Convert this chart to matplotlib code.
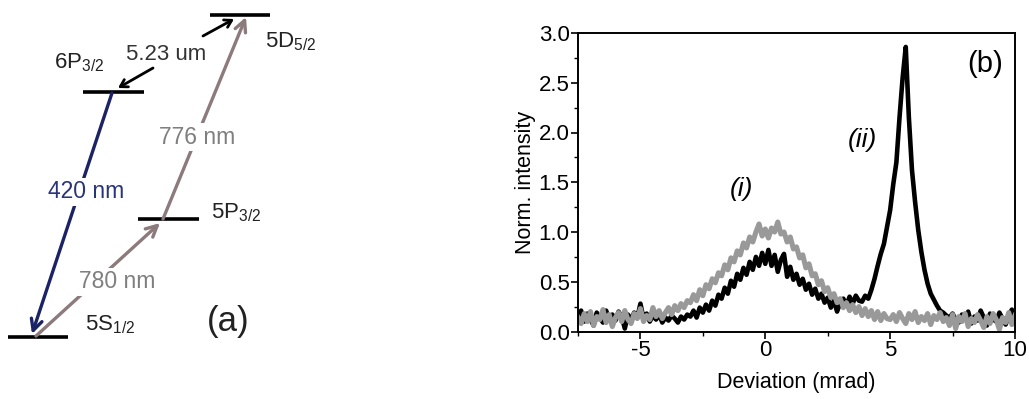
import numpy as np
import matplotlib.pyplot as plt
import matplotlib as mpl

mpl.rcParams['font.family'] = ['Liberation Sans', 'DejaVu Sans']
mpl.rcParams['mathtext.fontset'] = 'custom'
mpl.rcParams['mathtext.rm'] = 'Liberation Sans'
mpl.rcParams['mathtext.it'] = 'Liberation Sans:italic'
mpl.rcParams['axes.unicode_minus'] = False

# deviation grid, mrad (step 0.125)
deviation = np.linspace(-7.5, 10.0, 141)

# (i) probe beam only, grey
intensity_i = [
    0.14, 0.08, 0.18, 0.10, 0.20, 0.06, 0.15, 0.12, 0.22, 0.09,
    0.17, 0.05, 0.14, 0.19, 0.10, 0.21, 0.12, 0.08, 0.18, 0.13,
    0.23, 0.10, 0.16, 0.12, 0.24, 0.15, 0.21, 0.13, 0.19, 0.24,
    0.17, 0.26, 0.21, 0.28, 0.24, 0.31,
    0.29, 0.37, 0.31, 0.42, 0.36, 0.47, 0.43, 0.53, 0.49, 0.59,
    0.56, 0.67, 0.62, 0.74, 0.70, 0.81, 0.77, 0.89, 0.84, 0.95,
    0.90, 1.00, 1.08, 0.96, 1.03, 0.94, 1.04, 1.00, 1.10, 0.98,
    1.00, 0.90, 0.95, 0.83, 0.85, 0.74, 0.77, 0.64, 0.68, 0.56,
    0.58, 0.47, 0.51, 0.40, 0.44, 0.34, 0.38, 0.29, 0.33, 0.24,
    0.29, 0.21, 0.27, 0.19, 0.25, 0.16, 0.23, 0.15, 0.21, 0.12,
    0.20, 0.11, 0.18, 0.13, 0.12,
    0.17, 0.10, 0.19, 0.13, 0.08, 0.18, 0.12, 0.20, 0.09, 0.15,
    0.11, 0.18, 0.07, 0.16, 0.12, 0.19, 0.10, 0.14, 0.06, 0.17,
    0.03, 0.15, 0.10, 0.18, 0.05, 0.13, 0.09, 0.17, 0.11, 0.04,
    0.15, 0.08, 0.18, 0.12, 0.02, 0.14, 0.09, 0.19, 0.07, 0.16,
]

# (ii) with coupling beams, black
intensity_ii = [
    0.16, 0.21, 0.10, 0.18, 0.12, 0.06, 0.19, 0.14, 0.09, 0.21,
    0.13, 0.17, 0.11, 0.20, 0.15, 0.03, 0.17, 0.12, 0.19, 0.14,
    0.28, 0.13, 0.18, 0.10, 0.16, 0.12, 0.17, 0.09, 0.14, 0.11,
    0.16, 0.13, 0.09, 0.15, 0.12, 0.17,
    0.15, 0.21, 0.14, 0.24, 0.19, 0.27, 0.21, 0.31, 0.26, 0.37,
    0.33, 0.44, 0.38, 0.51, 0.45, 0.58, 0.52, 0.64, 0.57, 0.70,
    0.62, 0.75, 0.66, 0.79, 0.68, 0.82, 0.66, 0.77, 0.60, 0.72,
    0.78, 0.55, 0.65, 0.52, 0.58, 0.47, 0.53, 0.42, 0.48, 0.37,
    0.43, 0.33, 0.38, 0.29, 0.34, 0.24, 0.31, 0.20, 0.29, 0.33,
    0.26, 0.35, 0.28, 0.36, 0.31, 0.30, 0.36, 0.33,
    0.42, 0.53, 0.66, 0.78, 0.88, 1.05,
    1.22, 1.48, 1.70, 2.15, 2.55, 2.86, 2.15, 1.62, 1.30, 1.02,
    0.80, 0.62, 0.48, 0.38, 0.32, 0.26, 0.21, 0.19, 0.16, 0.14,
    0.18, 0.12, 0.09, 0.17, 0.13, 0.20, 0.08, 0.15, 0.11, 0.21,
    0.14, 0.06, 0.18, 0.12, 0.10, 0.19, 0.13, 0.07, 0.16, 0.22,
    0.12,
]

# level scheme, drawn in pixel units of the left panel
level_names = ['5S$_{\\mathrm{1/2}}$', '5P$_{\\mathrm{3/2}}$', '6P$_{\\mathrm{3/2}}$', '5D$_{\\mathrm{5/2}}$']
wavelengths = ['780 nm', '776 nm', '420 nm', '5.23 um']

W, H = 1029, 399
fig = plt.figure(figsize=(W / 100, H / 100), dpi=100)

# ---- (a) energy levels ----
ax0 = fig.add_axes([0, 0, 340 / W, 1])
ax0.set_xlim(0, 340)
ax0.set_ylim(H, 0)
ax0.axis('off')

levels = {
    '5S': ((8, 68), 337, (85, 325)),
    '5P': ((138, 199), 219, (211, 213)),
    '6P': ((83, 144), 92, (54, 63)),
    '5D': ((210, 270), 15, (265, 42)),
}
for name, key in zip(level_names, ['5S', '5P', '6P', '5D']):
    (x1, x2), y, (tx, ty) = levels[key]
    ax0.plot([x1, x2], [y, y], color='black', lw=2.6, solid_capstyle='butt')
    ax0.text(tx, ty, name, fontsize=16, va='center', ha='left', color='#222222')

navy = '#1c2266'
mauve = '#8c7a7c'
arrows = [
    ((36, 336), (160, 223), mauve, wavelengths[0], (117, 282), '#7f7f7f'),
    ((163, 219), (246, 17), mauve, wavelengths[1], (197, 137), '#7f7f7f'),
    ((112, 93), (32, 334), navy, wavelengths[2], (86, 192), '#2a3478'),
]
for start, end, col, lab, pos, tcol in arrows:
    ax0.annotate('', xy=end, xytext=start,
                 arrowprops=dict(arrowstyle='->,head_length=0.8,head_width=0.4',
                                 color=col, lw=2.4, shrinkA=0, shrinkB=0))
    ax0.text(pos[0], pos[1], lab, fontsize=16.5, ha='center', va='center', color=tcol,
             bbox=dict(facecolor='white', edgecolor='none', pad=1.5), zorder=5)

for start, end in [((153, 68), (118, 88)), ((203, 36), (234, 19))]:
    ax0.annotate('', xy=end, xytext=start,
                 arrowprops=dict(arrowstyle='->,head_length=0.5,head_width=0.3',
                                 color='black', lw=2.0, shrinkA=0, shrinkB=0))
ax0.text(166, 55, wavelengths[3], fontsize=16, ha='center', va='center', color='#333333')
ax0.text(228, 322, '(a)', fontsize=25, ha='center', va='center', color='#222222')

# ---- (b) deviation profiles ----
ax = fig.add_axes([578 / W, 1 - 331.5 / H, 437 / W, 298.5 / H])
ax.plot(deviation, intensity_ii, color='black', lw=3.3)
ax.plot(deviation, intensity_i, color='#999999', lw=3.7)

ax.set_xlim(-7.5, 10)
ax.set_ylim(0, 3.0)
ax.set_xticks([-5, 0, 5, 10])
ax.set_xticks(np.arange(-7.5, 10.1, 2.5), minor=True)
ax.set_yticks(np.arange(0, 3.01, 0.5))
ax.set_yticks(np.arange(0, 3.01, 0.25), minor=True)
ax.set_yticklabels(['%.1f' % v for v in np.arange(0, 3.01, 0.5)])
ax.tick_params(which='major', direction='out', length=5, width=1.2, labelsize=16, pad=1)
ax.tick_params(which='minor', direction='out', length=3, width=1.0)
for s in ax.spines.values():
    s.set_linewidth(1.4)

ax.set_xlabel('Deviation (mrad)', fontsize=15.5, labelpad=8)
ax.set_ylabel('Norm. intensity', fontsize=15.5, labelpad=2)

ax.text(-0.95, 1.43, '(i)', fontsize=19, style='italic', ha='center', va='center')
ax.text(3.9, 1.92, '(ii)', fontsize=19, style='italic', ha='center', va='center')
ax.text(8.8, 2.69, '(b)', fontsize=21, ha='center', va='center')

fig.savefig('out.png', dpi=100)
